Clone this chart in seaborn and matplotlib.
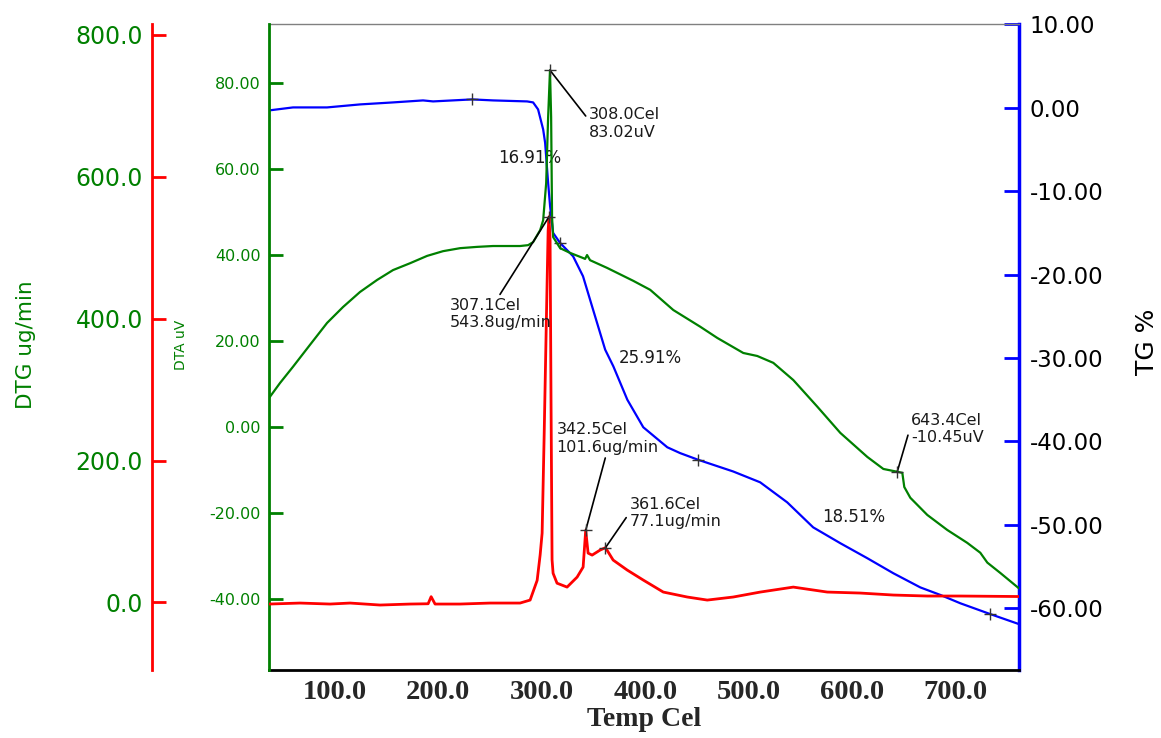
import numpy as np
import pandas as pd
import matplotlib
matplotlib.use('Agg')
import matplotlib.pyplot as plt
import seaborn as sns

sns.set_style('white')
plt.rcParams['font.family'] = ['DejaVu Sans']

# TG curve (%), right axis
tg_temp = [36.6, 59.8, 92.7, 124.5, 156.4, 185.4, 195.1, 232.8, 253.0, 285.9,
           291.7, 296.5, 301.4, 303.3, 306.2, 308.1, 311.0, 317.7, 330.3, 339.9,
           349.6, 361.3, 369.2, 382.7, 398.1, 421.3, 433.7, 451.1, 484.9, 511.0,
           537.1, 562.2, 588.4, 614.5, 639.6, 665.7, 685.0, 704.3, 733.3, 761.0]
tg_val = [-0.32, 0.04, 0.04, 0.40, 0.64, 0.88, 0.76, 1.00, 0.88, 0.76,
          0.64, -0.2, -2.6, -4.2, -9.0, -11.8, -15.0, -16.2, -17.8, -20.2,
          -24.2, -29.0, -31.0, -35.0, -38.3, -40.7, -41.4, -42.2, -43.6, -44.9,
          -47.3, -50.3, -52.2, -54.0, -55.8, -57.5, -58.4, -59.4, -60.7, -61.9]

# DTA curve (uV), inner left axis
dta_temp = [36.6, 47.2, 59.8, 76.2, 92.7, 108.1, 124.5, 141.0, 156.4, 172.9,
            189.3, 204.7, 221.2, 237.6, 253.0, 279.1, 286.9, 291.7, 298.5, 301.4,
            304.3, 306.2, 308.0, 309.1, 310.0, 311.0, 317.8, 327.4, 340.0, 341.9,
            343.8, 346.7, 363.2, 388.4, 404.8, 427.1, 453.2, 469.6, 494.7, 508.2,
            523.7, 543.0, 566.2, 588.4, 614.5, 630.0, 643.4, 648.3, 650.2, 656.0,
            672.4, 691.7, 711.0, 723.6, 730.4, 742.9, 761.0]
dta_val = [6.7, 10.2, 14.0, 19.1, 24.2, 27.9, 31.4, 34.2, 36.5, 38.1,
           39.8, 40.9, 41.6, 41.9, 42.1, 42.1, 42.3, 43.0, 45.8, 48.1,
           56.7, 72.1, 83.02, 72.1, 48.8, 44.2, 41.6, 40.5, 39.3, 39.1,
           40.0, 38.8, 37.0, 34.0, 31.9, 27.2, 23.3, 20.7, 17.2, 16.5,
           14.9, 10.9, 4.7, -1.4, -7.0, -9.8, -10.45, -10.7, -14.0, -16.5,
           -20.5, -24.0, -27.0, -29.3, -31.6, -34.0, -37.6]

# DTG curve (ug/min), outer left axis
dtg_temp = [36.6, 66.6, 95.6, 114.9, 143.9, 172.9, 190.3, 193.2, 197.0, 221.2,
            250.2, 279.1, 288.8, 295.6, 298.5, 300.4, 302.4, 304.3, 306.2, 307.1,
            308.1, 309.0, 310.0, 311.0, 314.8, 324.5, 334.2, 340.0, 342.5, 344.8,
            348.7, 356.4, 361.6, 369.0, 382.6, 398.1, 417.4, 440.6, 459.9, 485.0,
            511.1, 543.0, 575.8, 607.7, 639.6, 672.4, 704.3, 761.0]
dtg_val = [-2.4, -1.0, -2.4, -1.0, -3.8, -2.4, -2.0, 8.0, -2.4, -2.4,
           -1.0, -1.0, 3.2, 31.0, 67.0, 97.6, 238.0, 383.0, 524.0, 543.8,
           510.0, 285.0, 60.0, 41.0, 27.0, 21.5, 35.6, 49.7, 101.6, 69.4,
           66.6, 73.7, 77.1, 59.6, 45.5, 31.4, 14.5, 7.5, 3.2, 7.5,
           14.5, 21.5, 14.5, 13.1, 10.3, 8.9, 8.9, 8.2]

# analysis points
dta_peak_temp = [308.0, 643.4]
dta_peak_val = [83.02, -10.45]
dtg_peak_temp = [307.1, 342.5, 361.6]
dtg_peak_val = [543.8, 101.6, 77.1]
tg_mark_temp = [232.8, 317.7, 451.1, 733.3]
tg_mark_val = [1.0, -16.2, -42.2, -60.7]
tg_steps = ['16.91%', '25.91%', '18.51%']

# tick values
x_ticks = [100, 200, 300, 400, 500, 600, 700]
tg_ticks = [10, 0, -10, -20, -30, -40, -50, -60]
dta_ticks = [80, 60, 40, 20, 0, -20, -40]
dtg_ticks = [0, 200, 400, 600, 800]

tg_df = pd.DataFrame({'temp': tg_temp, 'val': tg_val})
dta_df = pd.DataFrame({'temp': dta_temp, 'val': dta_val})
dtg_df = pd.DataFrame({'temp': dtg_temp, 'val': dtg_val})

W, H = 1161, 738
left, right, top, bottom = 269, 1019, 23.5, 670
PX = 0.72  # pixel -> points at dpi 100

fig = plt.figure(figsize=(11.61, 7.38), dpi=100)
ax = fig.add_axes([left / W, 1 - bottom / H, (right - left) / W, (bottom - top) / H])
ax_dta = ax.twinx()
ax_dtg = ax.twinx()

BLUE, GREEN, RED = '#0000ff', '#008000', '#ff0000'

sns.lineplot(data=tg_df, x='temp', y='val', ax=ax, color=BLUE, linewidth=1.6,
             sort=False, estimator=None)
sns.lineplot(data=dta_df, x='temp', y='val', ax=ax_dta, color=GREEN, linewidth=1.6,
             sort=False, estimator=None)
sns.lineplot(data=dtg_df, x='temp', y='val', ax=ax_dtg, color=RED, linewidth=2.0,
             sort=False, estimator=None)

mk = dict(marker='+', s=70, color='#333333', linewidth=1, zorder=5)
sns.scatterplot(x=tg_mark_temp, y=tg_mark_val, ax=ax, **mk)
sns.scatterplot(x=dta_peak_temp, y=dta_peak_val, ax=ax_dta, **mk)
sns.scatterplot(x=dtg_peak_temp, y=dtg_peak_val, ax=ax_dtg, **mk)

ax.set_xlim(36.6, 761)
ax.set_ylim(-67.4, 10.1)
ax_dta.set_ylim(-56.6, 93.9)
ax_dtg.set_ylim(-95.4, 816.2)

# x axis (bottom)
ax.set_xticks(x_ticks, [f'{t:.1f}' for t in x_ticks], fontsize=20.5,
              fontweight='bold', fontfamily='Liberation Serif')
ax.xaxis.set_minor_locator(plt.MultipleLocator(20))
ax.tick_params(axis='x', which='major', direction='in', length=9, width=1.5,
               color='black', pad=7)
ax.tick_params(axis='x', which='minor', direction='in', length=5, width=1.5,
               color='black')
ax.set_xlabel('Temp Cel', fontsize=20, fontweight='bold',
              fontfamily='Liberation Serif')
ax.xaxis.set_label_coords(0.5, -0.058)
ax.xaxis.label.set_va('top')

# TG axis (right)
ax.yaxis.set_ticks_position('right')
ax.yaxis.set_label_position('right')
ax.set_yticks(tg_ticks, [f'{t:.2f}' for t in tg_ticks], fontsize=16.5)
ax.tick_params(axis='y', direction='in', length=10.8, width=2, color=BLUE,
               labelcolor='black', pad=7.5)
ax.set_ylabel('TG %', fontsize=18, color='black')
ax.yaxis.set_label_coords(1.155, 0.507)

# DTA axis (inner left)
ax_dta.yaxis.set_ticks_position('left')
ax_dta.yaxis.set_label_position('left')
ax_dta.set_yticks(dta_ticks, [f'{t:.2f}' for t in dta_ticks], fontsize=11.5)
ax_dta.tick_params(axis='y', direction='in', length=10, width=2, color=GREEN,
                   labelcolor=GREEN, pad=6)
ax_dta.set_ylabel('DTA uV', fontsize=10, color=GREEN)
ax_dta.yaxis.set_label_coords(-0.108, 0.503)

# DTG axis (outer left)
ax_dtg.yaxis.set_ticks_position('left')
ax_dtg.yaxis.set_label_position('left')
ax_dtg.spines['left'].set_position(('axes', (152 - left) / (right - left)))
ax_dtg.set_yticks(dtg_ticks, [f'{t:.1f}' for t in dtg_ticks], fontsize=17)
ax_dtg.tick_params(axis='y', direction='in', length=10, width=2, color=RED,
                   labelcolor=GREEN, pad=6.5)
ax_dtg.set_ylabel('DTG ug/min', fontsize=15.5, color=GREEN)
ax_dtg.yaxis.set_label_coords(-0.31, 0.503)

for a in (ax, ax_dta, ax_dtg):
    for s in a.spines.values():
        s.set_visible(False)
ax.spines['top'].set_visible(True)
ax.spines['top'].set_color('#808080')
ax.spines['top'].set_linewidth(1)
ax.spines['bottom'].set_visible(True)
ax.spines['bottom'].set_color('black')
ax.spines['bottom'].set_linewidth(2)
ax.spines['right'].set_visible(True)
ax.spines['right'].set_color(BLUE)
ax.spines['right'].set_linewidth(2.5)
ax_dta.spines['left'].set_visible(True)
ax_dta.spines['left'].set_color(GREEN)
ax_dta.spines['left'].set_linewidth(2)
ax_dtg.spines['left'].set_visible(True)
ax_dtg.spines['left'].set_color(RED)
ax_dtg.spines['left'].set_linewidth(2)


def callout(axis, x, y, text, dx, dy, rel):
    axis.annotate(text, xy=(x, y), xytext=(dx * PX, dy * PX), textcoords='offset points',
                  ha='left', va='top', fontsize=11.5, color='#1a1a1a',
                  annotation_clip=False,
                  arrowprops=dict(arrowstyle='-', color='black', lw=1.2,
                                  shrinkA=0, shrinkB=0, relpos=rel))


# label offsets in pixels
dta_offsets = [(39, -37, (0.0, 0.6)), (14, 59, (-0.02, 0.5))]
dtg_offsets = [(-99, -81, (0.49, 1.1)), (-29, 108, (0.48, -0.05)), (24, 51, (0.0, 0.5))]

for t, v, (dx, dy, rel) in zip(dta_peak_temp, dta_peak_val, dta_offsets):
    callout(ax_dta, t, v, f'{t:.1f}Cel\n{v:.2f}uV', dx, dy, rel)
for t, v, (dx, dy, rel) in zip(dtg_peak_temp, dtg_peak_val, dtg_offsets):
    callout(ax_dtg, t, v, f'{t:.1f}Cel\n{v:.1f}ug/min', dx, dy, rel)

step_pos = [(288.8, -5.97), (404.7, -30.0), (600.9, -49.1)]
for lbl, (px_, py_) in zip(tg_steps, step_pos):
    ax.text(px_, py_, lbl, ha='center', va='center', fontsize=12, color='#1a1a1a')

for a in (ax_dta, ax_dtg):
    a.set_xlabel('')

fig.savefig('out.png', dpi=100, facecolor='white')
plt.close(fig)
